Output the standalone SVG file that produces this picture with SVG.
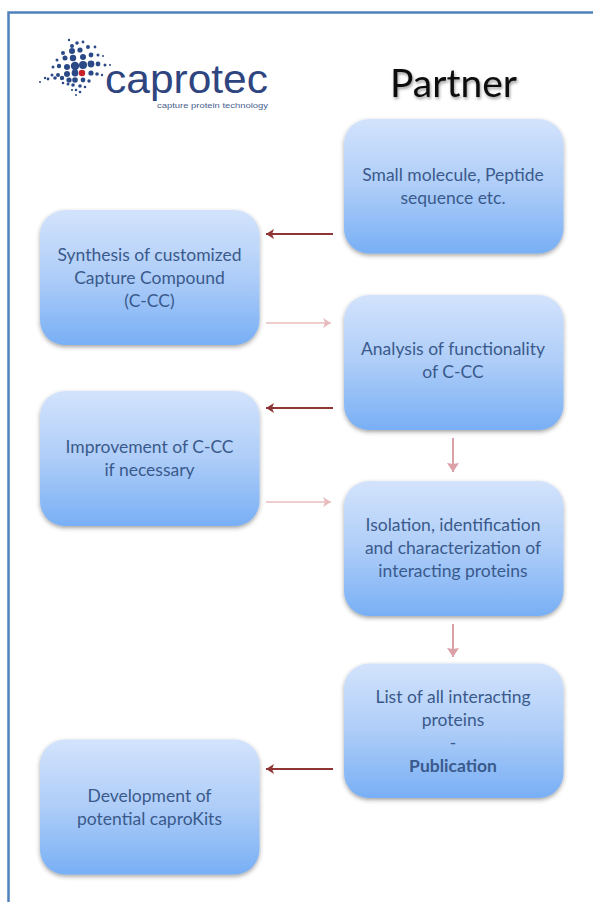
<svg xmlns="http://www.w3.org/2000/svg" width="593" height="902" viewBox="0 0 593 902">
<style>
.box{fill:url(#g);filter:url(#s)}
.t{font-family:Lato,"Open Sans",sans-serif;font-size:17.500px;fill:#3a5a8c;text-anchor:middle}
.d{stroke:#8f3535;stroke-width:2;fill:none;marker-end:url(#ad)}
.l{stroke:#e8bcbc;stroke-width:1.500;fill:none;marker-end:url(#al)}
.v{stroke:#dba0a8;stroke-width:2;fill:none;marker-end:url(#av)}
.dot{fill:#2c4a86;filter:url(#b)}
</style>
<defs>
<linearGradient id="g" x1="0" y1="0" x2="0" y2="1"><stop offset="0" stop-color="#d3e3fc"/><stop offset="0.5" stop-color="#aecdf8"/><stop offset="1" stop-color="#78aff5"/></linearGradient>
<filter id="s" x="-10%" y="-10%" width="120%" height="125%"><feDropShadow dx="0" dy="2" stdDeviation="2" flood-color="#333" flood-opacity="0.45"/></filter>
<filter id="ts" x="-10%" y="-20%" width="120%" height="150%"><feDropShadow dx="1" dy="2" stdDeviation="1.500" flood-color="#000" flood-opacity="0.4"/></filter>
<filter id="b" x="-5%" y="-5%" width="110%" height="110%"><feGaussianBlur stdDeviation="0.400"/></filter>
<marker id="ad" markerUnits="userSpaceOnUse" markerWidth="10" markerHeight="10" refX="8" refY="5" orient="auto"><path d="M0 0L8 5L0 10L2 5Z" fill="#8f3535"/></marker>
<marker id="al" markerUnits="userSpaceOnUse" markerWidth="10" markerHeight="10" refX="8" refY="5" orient="auto"><path d="M0 0L8 5L0 10L2 5Z" fill="#e8bcbc"/></marker>
<marker id="av" markerUnits="userSpaceOnUse" markerWidth="12" markerHeight="12" refX="9" refY="6" orient="auto"><path d="M0 0L9 6L0 12L1 6Z" fill="#dba0a8"/></marker>
</defs>
<rect width="593" height="902" fill="#fff"/>
<path id="frame" d="M8.500 902V12.500H593" fill="none" stroke="#4f81bd" stroke-width="2.500"/>
<g id="logo">
<g class="dot">
<circle cx="69" cy="40" r="1.200"/><circle cx="72" cy="46" r="2"/><circle cx="77" cy="43" r="1.800"/><circle cx="83" cy="42" r="1.400"/>
<circle cx="63" cy="53" r="2"/><circle cx="72" cy="51" r="3"/><circle cx="80" cy="50" r="2.600"/><circle cx="88" cy="47" r="2"/><circle cx="95" cy="47" r="1.400"/>
<circle cx="57" cy="60" r="1.500"/><circle cx="65" cy="58" r="2.500"/><circle cx="73" cy="58" r="3.200"/><circle cx="83" cy="57" r="3"/><circle cx="91" cy="55" r="2.400"/><circle cx="98" cy="55" r="1.500"/><circle cx="103" cy="56" r="1"/>
<circle cx="53" cy="67" r="1.500"/><circle cx="59" cy="66" r="2.200"/><circle cx="67" cy="67" r="3"/><circle cx="75" cy="66" r="4.200"/><circle cx="83" cy="65" r="4"/><circle cx="91" cy="64" r="3.400"/><circle cx="98" cy="64" r="2.400"/><circle cx="105" cy="65" r="1.500"/><circle cx="110" cy="65" r="1"/>
<circle cx="45" cy="78" r="1.200"/><circle cx="52" cy="75" r="1.500"/><circle cx="58" cy="75" r="2"/><circle cx="67" cy="74" r="3"/><circle cx="75" cy="73" r="3.400"/><circle cx="91" cy="73" r="2.600"/><circle cx="97" cy="74" r="1.800"/><circle cx="102" cy="75" r="1.200"/>
<circle cx="40" cy="82" r="1"/><circle cx="48" cy="79" r="1.400"/><circle cx="55" cy="78" r="1.800"/><circle cx="62" cy="78" r="2.200"/><circle cx="69" cy="80" r="2.600"/><circle cx="75" cy="80" r="2.800"/><circle cx="83" cy="80" r="2.400"/><circle cx="89" cy="81" r="1.700"/>
<circle cx="63" cy="83" r="1.300"/><circle cx="68" cy="84" r="1.500"/><circle cx="73" cy="85" r="1.800"/><circle cx="80" cy="86" r="1.800"/><circle cx="85" cy="87" r="1.300"/>
<circle cx="72" cy="90" r="1.100"/><circle cx="76" cy="90" r="1.300"/><circle cx="80" cy="92" r="1.300"/><circle cx="76" cy="95" r="1"/>
</g>
<circle cx="82" cy="73" r="3.200" fill="#c8202c" filter="url(#b)"/>
<text x="186.500" y="93" font-family="'Liberation Sans',Arial,sans-serif" font-size="40" fill="#2f4580" text-anchor="middle" textLength="163" lengthAdjust="spacingAndGlyphs">caprotec</text>
<text x="212.500" y="107.500" font-family="'Liberation Sans',Arial,sans-serif" font-size="7" fill="#4a5f92" text-anchor="middle" textLength="111" lengthAdjust="spacingAndGlyphs">capture protein technology</text>
</g>
<text id="partner" x="453.500" y="97" font-family="Lato,'Open Sans',sans-serif" font-size="39" fill="#111" text-anchor="middle" filter="url(#ts)">Partner</text>
<g id="connectors">
<path class="d" d="M333 234H266"/>
<path class="l" d="M266 323H331"/>
<path class="d" d="M333 408H266"/>
<path class="l" d="M266 502H331"/>
<path class="d" d="M333 769H266"/>
<path class="v" d="M453 438V472"/>
<path class="v" d="M453 624V657"/>
</g>
<g id="n1"><rect class="box" x="344" y="119" width="219.500" height="134.500" rx="25"/><text class="t" x="453" y="181">Small molecule, Peptide</text><text class="t" x="453" y="204">sequence etc.</text></g>
<g id="n2"><rect class="box" x="40" y="210" width="219.500" height="135" rx="25"/><text class="t" x="149.500" y="261">Synthesis of customized</text><text class="t" x="149.500" y="284">Capture Compound</text><text class="t" x="149.500" y="307">(C-CC)</text></g>
<g id="n3"><rect class="box" x="344" y="295" width="219.500" height="135" rx="25"/><text class="t" x="453" y="355">Analysis of functionality</text><text class="t" x="453" y="378">of C-CC</text></g>
<g id="n4"><rect class="box" x="40" y="391" width="219.500" height="135" rx="25"/><text class="t" x="149.500" y="453">Improvement of C-CC</text><text class="t" x="149.500" y="476">if necessary</text></g>
<g id="n5"><rect class="box" x="344" y="481" width="219.500" height="135" rx="25"/><text class="t" x="453" y="531">Isolation, identification</text><text class="t" x="453" y="554">and characterization of</text><text class="t" x="453" y="577">interacting proteins</text></g>
<g id="n6"><rect class="box" x="344" y="663.500" width="219.500" height="134.500" rx="25"/><text class="t" x="453" y="703">List of all interacting</text><text class="t" x="453" y="726">proteins</text><text class="t" x="453" y="749">-</text><text class="t" x="453" y="772" font-weight="700">Publication</text></g>
<g id="n7"><rect class="box" x="40" y="739.500" width="219.500" height="135" rx="25"/><text class="t" x="149.500" y="802">Development of</text><text class="t" x="149.500" y="825">potential caproKits</text></g>
</svg>
